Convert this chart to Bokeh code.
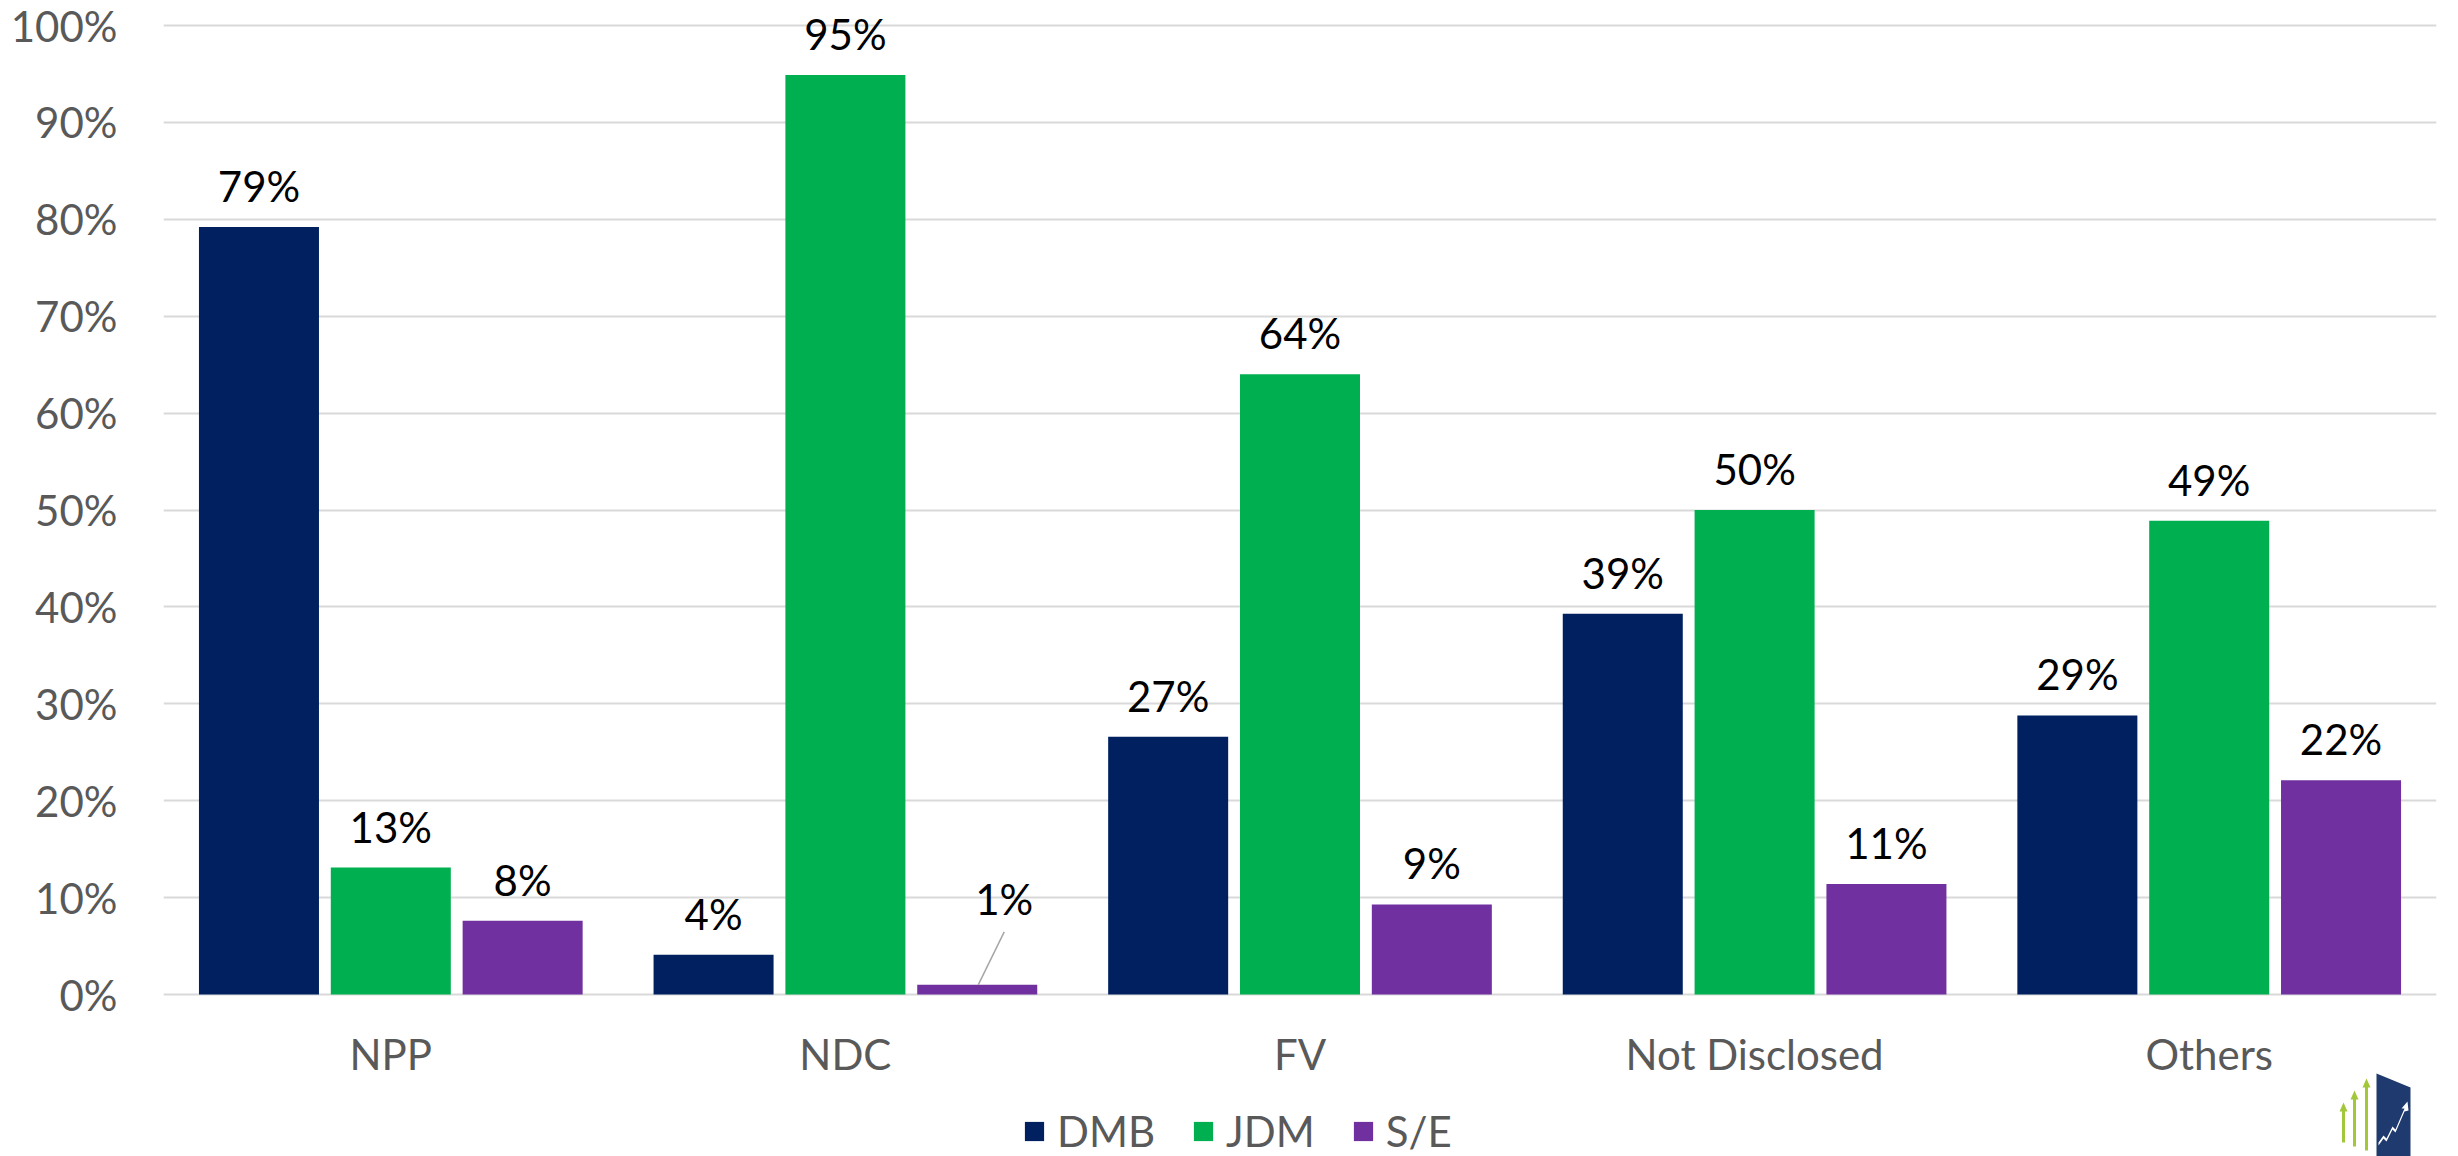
from bokeh.plotting import figure
from bokeh.models import (ColumnDataSource, FactorRange, Range1d, FixedTicker,
                          Legend, LegendItem, PolyAnnotation)
from bokeh.transform import dodge
from bokeh.core.properties import value
from bokeh.embed import file_html
from bokeh.resources import INLINE

# ---------------- data ----------------
categories = ["NPP", "NDC", "FV", "Not Disclosed", "Others"]
series = ["DMB", "JDM", "S/E"]
dmb = [79.2, 4.1, 26.6, 39.3, 28.8]
jdm = [13.1, 94.9, 64.0, 50.0, 48.9]
se = [7.6, 1.0, 9.3, 11.4, 22.1]
y_ticks = [0, 10, 20, 30, 40, 50, 60, 70, 80, 90, 100]
y_tick_labels = ["0%", "10%", "20%", "30%", "40%", "50%", "60%", "70%", "80%", "90%", "100%"]
callout = ("NDC", "S/E")   # label drawn with a leader line

# ---------------- style ----------------
colors = ["#002060", "#00B050", "#7030A0"]
offsets = [-0.29, 0.0, 0.29]
BAR_W = 0.264
FONT = "Lato"
FS = "42px"
GREY = "#595959"

W, H = 2458, 1156
FL, FR = 163, 2436                 # frame left/right in canvas pixels
TOP_PX = 25                        # canvas row of the 100% line
ZERO_PX = 994                      # canvas row of the 0% line
PX_PER_UNIT = (ZERO_PX - TOP_PX) / 100.0
CAT_PX = (FR - FL) / len(categories)
y_start = -(H - ZERO_PX) / PX_PER_UNIT   # frame runs to the canvas bottom
y_end = 100 + TOP_PX / PX_PER_UNIT       # ... and to the canvas top

p = figure(x_range=FactorRange(*categories, range_padding=0, factor_padding=0),
           y_range=Range1d(y_start, y_end), width=W, height=H,
           output_backend="svg", toolbar_location=None,
           min_border_left=FL, min_border_right=W - FR,
           min_border_top=0, min_border_bottom=0)
p.outline_line_color = None
p.background_fill_color = "white"
p.border_fill_color = "white"

p.xgrid.grid_line_color = None
p.ygrid.grid_line_color = "#D9D9D9"
p.ygrid.grid_line_width = 2
p.yaxis.ticker = FixedTicker(ticks=y_ticks)
p.yaxis.major_label_overrides = {t: l for t, l in zip(y_ticks, y_tick_labels)}
p.xaxis.fixed_location = 0
for ax in (p.xaxis, p.yaxis):
    ax.axis_line_color = None
    ax.major_tick_line_color = None
    ax.minor_tick_line_color = None
    ax.major_tick_out = 0
    ax.major_tick_in = 0
    ax.major_label_text_font = FONT
    ax.major_label_text_font_size = FS
    ax.major_label_text_color = GREY
p.yaxis.major_label_standoff = 46
p.xaxis.major_label_standoff = 34

renderers = []
for name, vals, col, off in zip(series, [dmb, jdm, se], colors, offsets):
    src = ColumnDataSource(dict(cat=categories, val=vals))
    r = p.vbar(x=dodge("cat", off, range=p.x_range), top="val", width=BAR_W,
               source=src, fill_color=col, line_color=None)
    renderers.append(r)

    keep = [i for i, c in enumerate(categories) if (c, name) != callout]
    lsrc = ColumnDataSource(dict(cat=[categories[i] for i in keep],
                                 val=[vals[i] for i in keep],
                                 lab=[f"{round(vals[i])}%" for i in keep]))
    p.text(x=dodge("cat", off, range=p.x_range), y="val", text="lab", source=lsrc,
           text_align="center", text_baseline="alphabetic", y_offset=-41,
           text_font=value(FONT), text_font_size=FS, text_color="black")

    if callout[1] == name:
        i = categories.index(callout[0])
        v = vals[i]
        csrc = ColumnDataSource(dict(cat=[categories[i]], val=[v], lab=[f"{round(v)}%"],
                                     top=[v + 53 / PX_PER_UNIT]))
        p.segment(x0=dodge("cat", off + 1 / CAT_PX, range=p.x_range), y0="val",
                  x1=dodge("cat", off + 27 / CAT_PX, range=p.x_range), y1="top",
                  source=csrc, line_color="#A6A6A6", line_width=1.5)
        p.text(x=dodge("cat", off, range=p.x_range), y="val", text="lab", source=csrc,
               text_align="center", text_baseline="alphabetic", x_offset=27, y_offset=-86,
               text_font=value(FONT), text_font_size=FS, text_color="black")

legend = Legend(items=[LegendItem(label=s, renderers=[r]) for s, r in zip(series, renderers)],
                orientation="horizontal", location=(1022 - FL, 0),
                padding=0, margin=0, spacing=36, label_standoff=11,
                glyph_width=24, glyph_height=24,
                label_text_font=FONT, label_text_font_size=FS,
                label_text_color=GREY, border_line_color=None,
                background_fill_alpha=0)
p.add_layout(legend)

# small logo, bottom right (decoration); screen units are frame-relative, y up from frame bottom
navy_logo = "#1F3A6E"
lime = "#A3C73A"
def fx(x):
    return x - FL
def fy(y):
    return H - y
p.add_layout(PolyAnnotation(xs=[fx(2376), fx(2410), fx(2410), fx(2376)],
                            ys=[fy(1073), fy(1087), fy(1156), fy(1156)],
                            xs_units="screen", ys_units="screen",
                            fill_color=navy_logo, fill_alpha=1, line_color=None))
for ax_, top_, bot_ in [(2343, 1102, 1142), (2354, 1090, 1146), (2366, 1078, 1150)]:
    p.add_layout(PolyAnnotation(xs=[fx(ax_ - 4), fx(ax_), fx(ax_ + 4), fx(ax_ + 1.5), fx(ax_ + 1.5), fx(ax_ - 1.5), fx(ax_ - 1.5)],
                                ys=[fy(top_ + 9), fy(top_), fy(top_ + 9), fy(top_ + 9), fy(bot_), fy(bot_), fy(top_ + 9)],
                                xs_units="screen", ys_units="screen",
                                fill_color=lime, fill_alpha=1, line_color=None))
zig = [(2378, 1142), (2383, 1135), (2386, 1138), (2392, 1126), (2395, 1129), (2404, 1108)]
zx = [fx(x) for x, _ in zig] + [fx(2401), fx(2407), fx(2408)] + [fx(x) for x, _ in reversed(zig)]
zy = [fy(y) for _, y in zig] + [fy(1108), fy(1101), fy(1110)] + [fy(y + 3) for _, y in reversed(zig)]
p.add_layout(PolyAnnotation(xs=zx, ys=zy, xs_units="screen", ys_units="screen",
                            fill_color="white", fill_alpha=1, line_color=None))

open("out.html", "w").write(file_html(p, INLINE))
